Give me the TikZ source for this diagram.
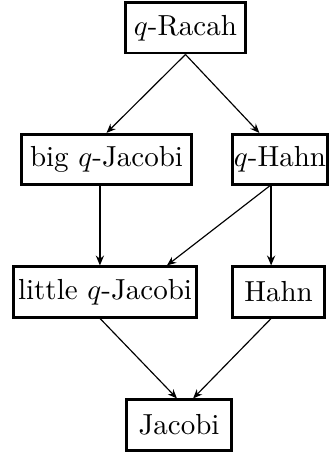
\documentclass[tikz,border=0pt]{standalone}
\usetikzlibrary{arrows.meta}
\tikzset{
  family/.style={draw, line width=1pt, inner xsep=1pt, minimum height=17.3pt},
  limarrow/.style={-{Stealth[length=3.2pt,width=2.6pt]}, line width=0.4pt},
  thickarrow/.style={-{Stealth[length=3.4pt,width=2.8pt]}, line width=0.8pt}
}
\begin{document}
\begin{tikzpicture}
        \useasboundingbox (0,0) rectangle (4,5.539);

        % Top of the scheme
        \node[family, minimum width=41.1pt] (qracah) at (2.248,5.200) {$q$-Racah};

        % Second row
        \node[family, minimum width=58.7pt] (bigqj) at (1.291,3.606) {big $q$-Jacobi};
        \node[family, minimum width=32.8pt, inner xsep=0.5pt] (qhahn) at (3.394,3.606) {$q$-Hahn};

        % Third row
        \node[family, minimum width=63.2pt] (littleqj) at (1.273,2.0) {little $q$-Jacobi};
        \node[family, minimum width=31.8pt] (hahn) at (3.376,2.0) {Hahn};

        % Bottom
        \node[family, minimum width=36.2pt] (jacobi) at (2.170,0.388) {Jacobi};

        % Limits from q-Racah
        \draw[limarrow] (qracah.south) -- (bigqj.north);
        \draw[limarrow] (qracah.south) -- ([xshift=-0.25cm]qhahn.north);

        % Limits to the third row
        \draw[thickarrow] ([xshift=-0.08cm]bigqj.south) -- ([xshift=-0.08cm]bigqj.south |- littleqj.north);
        \draw[limarrow] ([xshift=-0.127cm]qhahn.south) -- ([xshift=0.75cm]littleqj.north);
        \draw[thickarrow] ([xshift=-0.09cm]hahn.north |- qhahn.south) -- ([xshift=-0.09cm]hahn.north);

        % Limits to Jacobi
        \draw[limarrow] ([xshift=-0.06cm]littleqj.south) -- ([xshift=-0.025cm]jacobi.north);
        \draw[limarrow] ([xshift=-0.09cm]hahn.south) -- ([xshift=0.17cm]jacobi.north);
    \end{tikzpicture}
\end{document}
